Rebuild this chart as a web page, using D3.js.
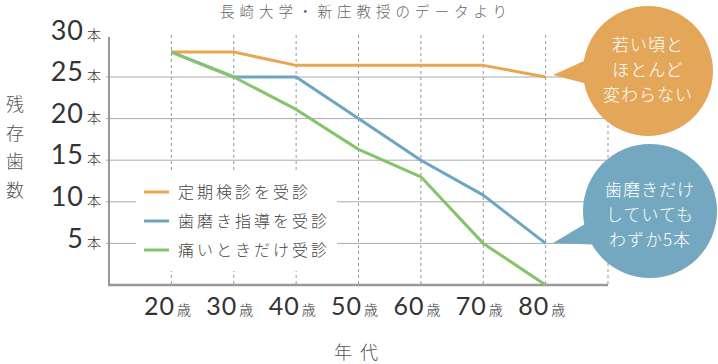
<!DOCTYPE html>
<html><head><meta charset="utf-8">
<script src="https://cdn.jsdelivr.net/npm/d3@7"></script>
<style>
body{margin:0;background:#fff;}
svg{display:block;}
</style></head>
<body>
<script>
const ages = [20, 30, 40, 50, 60, 70, 80];
const gridAges = [20, 30, 40, 50, 60, 70, 80, 90];
const yTicks = [5, 10, 15, 20, 25, 30];
const ageUnit = "歳";
const toothUnit = "本";
const seriesNames = ["定期検診を受診", "歯磨き指導を受診", "痛いときだけ受診"];
const checkupValues = [28, 28, 26.4, 26.4, 26.4, 26.4, 25];
const brushingValues = [28, 25, 25, 20, 15, 10.8, 5];
const painOnlyValues = [28, 25, 21.1, 16.3, 13, 5, 0];
const seriesColors = ["#E8A651", "#6CA6C1", "#84C46C"];
const title = "長崎大学・新庄教授のデータより";
const yTitle = ["残", "存", "歯", "数"];
const xTitle = "年 代";
const bubble1 = ["若い頃と", "ほとんど", "変わらない"];
const bubble2 = ["歯磨きだけ", "していても", "わずか5本"];

const W = 718, H = 364;
const svg = d3.select("body").append("svg").attr("width", W).attr("height", H);
const x = d3.scaleLinear().domain([10, 90]).range([109, 608]);
const y = d3.scaleLinear().domain([0, 30]).range([285, 35.4]);
const jp = "'Noto Sans CJK JP', 'Noto Sans', sans-serif";
const num = "Lato, 'Noto Sans', sans-serif";

// title
svg.append("text").attr("x", 366).attr("y", 17).attr("text-anchor", "middle")
  .attr("font-family", jp).attr("font-size", 14.5).attr("font-weight", 300)
  .attr("letter-spacing", 5).attr("fill", "#666").text(title);

// horizontal grid
svg.append("g").selectAll("line").data(yTicks.filter(d => d < 30)).join("line")
  .attr("x1", 106).attr("x2", x(90)).attr("y1", d => y(d)).attr("y2", d => y(d))
  .attr("stroke", "#aaa").attr("stroke-width", 1);

// dashed verticals
svg.append("g").selectAll("line").data(gridAges).join("line")
  .attr("x1", d => x(d)).attr("x2", d => x(d)).attr("y1", 35).attr("y2", y(0))
  .attr("stroke", "#999").attr("stroke-width", 1).attr("stroke-dasharray", "3,3");

// legend backdrop
svg.append("rect").attr("x", 136).attr("y", 170).attr("width", 201).attr("height", 101).attr("fill", "#fff");

// axes lines
svg.append("line").attr("x1", 109).attr("x2", 109).attr("y1", 37).attr("y2", y(0) + 1)
  .attr("stroke", "#999").attr("stroke-width", 2);
svg.append("line").attr("x1", 108).attr("x2", x(90)).attr("y1", y(0)).attr("y2", y(0))
  .attr("stroke", "#999").attr("stroke-width", 2.5);

// y axis labels
const yAxis = svg.append("g").attr("transform", "translate(101,0)")
  .call(d3.axisLeft(y).tickValues(yTicks).tickSize(0).tickPadding(0));
yAxis.select(".domain").remove();
yAxis.selectAll("text").each(function(d) {
  const t = d3.select(this).text("").attr("fill", "#333").attr("dy", "0.36em");
  t.append("tspan").attr("font-family", num).attr("font-size", 27).attr("font-weight", 400)
    .attr("letter-spacing", 1).text(d);
  t.append("tspan").attr("font-family", jp).attr("font-size", 14).attr("font-weight", 300)
    .attr("dx", 3).text(toothUnit);
});

// x axis labels
const xAxis = svg.append("g").attr("transform", "translate(0,311)")
  .call(d3.axisBottom(x).tickValues(ages).tickSize(0).tickPadding(0));
xAxis.select(".domain").remove();
xAxis.selectAll("text").each(function(d) {
  const t = d3.select(this).text("").attr("fill", "#333").attr("dy", "0.36em")
    .attr("text-anchor", "middle").attr("dx", -4.5);
  t.append("tspan").attr("font-family", num).attr("font-size", 25).attr("font-weight", 400)
    .attr("letter-spacing", 1).text(d);
  t.append("tspan").attr("font-family", jp).attr("font-size", 14).attr("font-weight", 300)
    .attr("dx", 2).text(ageUnit);
});

// series lines
const allSeries = [checkupValues, brushingValues, painOnlyValues];
const line = d3.line().x((d, i) => x(ages[i])).y(d => y(d));
allSeries.forEach((vals, k) => {
  svg.append("path").datum(vals).attr("d", line).attr("fill", "none")
    .attr("stroke", seriesColors[k]).attr("stroke-width", 3).attr("stroke-linejoin", "round");
});

// legend
const lg = svg.append("g");
seriesNames.forEach((n, i) => {
  const ly = 192 + i * 29;
  lg.append("line").attr("x1", 144).attr("x2", 169).attr("y1", ly).attr("y2", ly)
    .attr("stroke", seriesColors[i]).attr("stroke-width", 3);
  lg.append("text").attr("x", 178).attr("y", ly).attr("dy", "0.36em")
    .attr("font-family", jp).attr("font-size", 16).attr("font-weight", 300)
    .attr("letter-spacing", 3).attr("fill", "#444").text(n);
});

// y title
yTitle.forEach((c, i) => {
  svg.append("text").attr("x", 15).attr("y", 105 + i * 28.5).attr("dy", "0.36em")
    .attr("text-anchor", "middle").attr("font-family", jp).attr("font-size", 18)
    .attr("font-weight", 300).attr("fill", "#555").text(c);
});
// x title
svg.append("text").attr("x", 357).attr("y", 353).attr("dy", "0.36em").attr("text-anchor", "middle")
  .attr("font-family", jp).attr("font-size", 18).attr("font-weight", 300)
  .attr("letter-spacing", 2).attr("fill", "#555").text(xTitle);

// bubbles
function bubble(cx, cy, r, tipX, tipY, a1, a2, color, lines, ly0) {
  const g = svg.append("g");
  g.append("path").attr("d", `M${tipX},${tipY} L${a1[0]},${a1[1]} L${a2[0]},${a2[1]} Z`).attr("fill", color);
  g.append("circle").attr("cx", cx).attr("cy", cy).attr("r", r).attr("fill", color);
  lines.forEach((t, i) => {
    g.append("text").attr("x", cx).attr("y", ly0 + i * 25).attr("dy", "0.36em")
      .attr("text-anchor", "middle").attr("font-family", jp).attr("font-size", 17)
      .attr("font-weight", 300).attr("letter-spacing", 1).attr("fill", "#fff").text(t);
  });
}
bubble(648, 71, 65, 553, 75, [595, 56], [595, 86], "#E4A75A", bubble1, 45);
bubble(650, 211, 67, 553, 243, [600, 215], [605, 245], "#74A8C0", bubble2, 190);
</script>
</body></html>
